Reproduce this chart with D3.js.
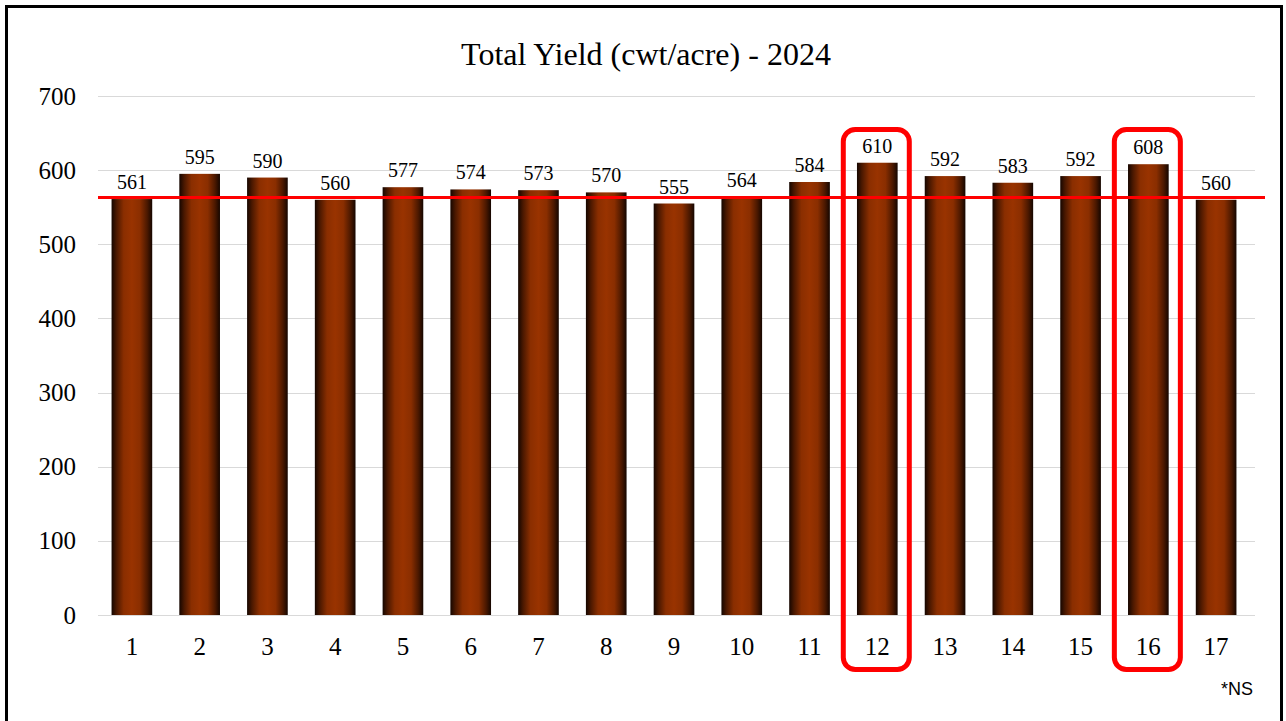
<!DOCTYPE html>
<html>
<head>
<meta charset="utf-8">
<script src="https://cdn.jsdelivr.net/npm/d3@7"></script>
<style>
  html, body { margin: 0; padding: 0; background: #fff; }
  svg { display: block; }
  .serif { font-family: "Liberation Serif", "Times New Roman", Times, serif; }
  .sans { font-family: "Liberation Sans", Arial, Helvetica, sans-serif; }
</style>
</head>
<body>
<svg id="chart" width="1286" height="721"></svg>
<script>
const categories = ["1","2","3","4","5","6","7","8","9","10","11","12","13","14","15","16","17"];
const yieldValues = [561,595,590,560,577,574,573,570,555,564,584,610,592,583,592,608,560];
const yTicks = [0,100,200,300,400,500,600,700];
const referenceLine = 563;
const highlighted = ["12","16"];
const titleText = "Total Yield (cwt/acre) - 2024";
const noteText = "*NS";

const svg = d3.select("#chart");
const plot = { left: 98, right: 1255, top: 96, bottom: 615 };

// outer border
svg.append("rect").attr("x", 6.5).attr("y", 6.5).attr("width", 1275).attr("height", 720)
  .attr("fill", "none").attr("stroke", "#000").attr("stroke-width", 3);

const x = d3.scaleBand().domain(categories).range([98, 1250]).paddingInner(0.4).paddingOuter(0.2);
const y = d3.scaleLinear().domain([0, 700]).range([plot.bottom, plot.top]);

const defs = svg.append("defs");
const grad = defs.append("linearGradient").attr("id", "barGrad").attr("x1", "0%").attr("x2", "100%").attr("y1", "0%").attr("y2", "0%");
[["0%", "#150600"], ["12%", "#4a1800"], ["30%", "#8a2e00"], ["50%", "#993300"], ["70%", "#8a2e00"], ["88%", "#4a1800"], ["100%", "#150600"]]
  .forEach(([o, c]) => grad.append("stop").attr("offset", o).attr("stop-color", c));

// gridlines
svg.append("g").selectAll("line").data(yTicks).join("line")
  .attr("x1", plot.left).attr("x2", plot.right)
  .attr("y1", d => Math.round(y(d)) + 0.5).attr("y2", d => Math.round(y(d)) + 0.5)
  .attr("stroke", "#d9d9d9").attr("stroke-width", 1);

// y axis labels
const yAxis = d3.axisLeft(y).tickValues(yTicks).tickSize(0).tickPadding(0);
const yg = svg.append("g").attr("transform", `translate(76,0)`).call(yAxis);
yg.select(".domain").remove();
yg.attr("font-family", null);
yg.selectAll("text").attr("class", "serif")
  .style("font-size", "25px").attr("fill", "#000");

// x axis labels
const xAxis = d3.axisBottom(x).tickSize(0).tickPadding(0);
const xg = svg.append("g").attr("transform", `translate(0,637)`).call(xAxis);
xg.select(".domain").remove();
xg.attr("font-family", null);
xg.selectAll("text").attr("class", "serif")
  .style("font-size", "25px").attr("fill", "#000");

// bars
svg.append("g").selectAll("rect").data(categories).join("rect")
  .attr("x", d => x(d)).attr("width", x.bandwidth())
  .attr("y", (d, i) => y(yieldValues[i])).attr("height", (d, i) => y(0) - y(yieldValues[i]))
  .attr("fill", "url(#barGrad)");

// value labels
svg.append("g").selectAll("text").data(categories).join("text")
  .attr("class", "serif")
  .attr("x", d => x(d) + x.bandwidth() / 2)
  .attr("y", (d, i) => y(yieldValues[i]) - 10)
  .attr("text-anchor", "middle")
  .style("font-size", "20px").attr("fill", "#000")
  .text((d, i) => yieldValues[i]);

// reference line
svg.append("line").attr("x1", plot.left).attr("x2", 1265)
  .attr("y1", y(referenceLine)).attr("y2", y(referenceLine))
  .attr("stroke", "#ff0000").attr("stroke-width", 3);

// highlight boxes
svg.append("g").selectAll("rect").data(highlighted).join("rect")
  .attr("x", d => x(d) + x.bandwidth() / 2 - 34).attr("width", 66)
  .attr("y", 129.5).attr("height", 540)
  .attr("rx", 12).attr("ry", 12)
  .attr("fill", "none").attr("stroke", "#ff0000").attr("stroke-width", 5);

// title
svg.append("text").attr("class", "serif").attr("x", 646).attr("y", 65).attr("text-anchor", "middle")
  .style("font-size", "32px").attr("fill", "#000").text(titleText);

// note
svg.append("text").attr("class", "sans").attr("x", 1253).attr("y", 695).attr("text-anchor", "end")
  .style("font-size", "18px").attr("fill", "#000").text(noteText);
</script>
</body>
</html>
